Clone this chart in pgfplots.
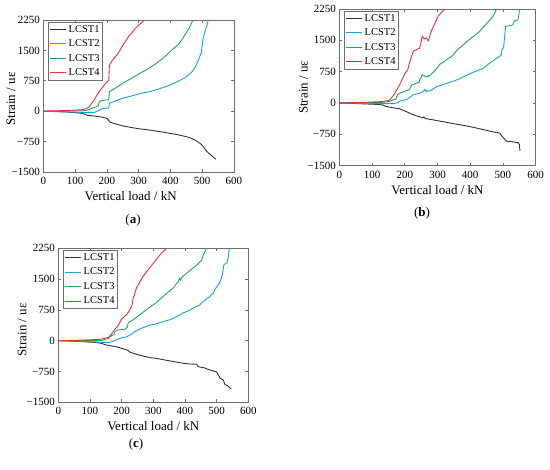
\documentclass[border=0pt]{standalone}
\usepackage{pgfplots}
\pgfplotsset{compat=1.18}
\usepackage{fontspec}
\setmainfont{Liberation Serif}
\definecolor{cA}{RGB}{50,50,50}
\definecolor{cB}{RGB}{25,160,225}
\definecolor{cC}{RGB}{30,165,95}
\definecolor{cD}{RGB}{240,45,55}
\definecolor{axgray}{RGB}{110,110,110}
\pgfplotsset{
  panel/.style={
    scale only axis,
    anchor=north west,
    xmin=0, xmax=600, ymin=-1500, ymax=2250,
    xtick={0,100,...,600},
    ytick={-1500,-750,0,750,1500,2250},
    yticklabels={−1500,−750,0,750,1500,2250},
    tick align=inside,
    major tick length=3pt,
    axis line style={axgray, line width=0.6pt},
    every tick/.style={axgray, line width=0.6pt},
    tick label style={font=\fontsize{11}{12}\selectfont},
    /pgf/number format/assume math mode=true,
    xticklabel style={yshift=-1.5pt},
    xlabel={Vertical load / kN},
    ylabel={Strain / uε},
    label style={font=\fontsize{13}{14}\selectfont},
    legend style={at={(0,1)}, anchor=north west, xshift=5pt, yshift=-2pt,
      draw=axgray, font=\fontsize{10.5}{11}\selectfont,
      inner sep=1pt, row sep=2pt, cells={anchor=west}},
    legend cell align=left,
    legend image code/.code={\draw[##1, line width=1.1pt] (0pt,0pt) -- (16pt,0pt);},
    every axis plot/.append style={line width=0.9pt, line join=round},
  },
}
\begin{document}
\begin{tikzpicture}
\path[use as bounding box] (0pt,0pt) rectangle (550pt,-470pt);
% ---------------- (a)
\begin{axis}[panel, at={(43.3pt,-20pt)}, width=190.7pt, height=152pt,
  xlabel style={xshift=-8pt},
  ylabel style={at={(axis description cs:-0.17,0.48)}, anchor=center}]
\addplot[cA] coordinates {(0,0) (40,-10) (80,-22) (120,-50) (132,-75) (138,-100) (160,-120) (185,-145) (201,-180) (205,-220) (210,-270) (230,-320) (249,-360) (275,-400) (302,-435) (330,-460) (354,-490) (380,-520) (400,-550) (420,-575) (440,-610) (460,-650) (477,-710) (493,-793) (503,-870) (514,-990) (530,-1100) (543,-1187)};
\addplot[cB] coordinates {(0,0) (40,-8) (80,-18) (120,-28) (140,-35) (159,-35) (170,0) (178,30) (185,65) (200,75) (206,80) (208,200) (220,230) (249,320) (275,370) (302,430) (330,475) (354,525) (380,590) (407,670) (430,760) (450,850) (470,990) (481,1130) (490,1300) (497,1450) (503,1800) (510,2000) (515,2110) (519,2250)};
\addplot[cC] coordinates {(0,0) (40,2) (80,5) (120,10) (132,15) (153,65) (169,120) (173,130) (176,225) (185,265) (195,275) (206,280) (208,485) (225,560) (249,685) (275,800) (302,925) (330,1050) (354,1170) (386,1370) (407,1530) (425,1640) (440,1810) (461,2080) (471,2250)};
\addplot[cD] coordinates {(0,0) (40,10) (80,20) (120,35) (132,55) (143,97) (153,200) (160,280) (169,400) (180,525) (196,685) (206,765) (208,1130) (217,1250) (235,1420) (249,1610) (270,1855) (291,2055) (318,2250)};
\legend{LCST1,LCST2,LCST3,LCST4}
\end{axis}
% ---------------- (b)
\begin{axis}[panel, at={(339.3pt,-9pt)}, width=196.4pt, height=156.7pt,
  ylabel style={at={(axis description cs:-0.183,0.5)}, anchor=center}]
\addplot[cA] coordinates {(0,0) (40,-10) (80,-22) (120,-35) (132,-45) (142,-80) (160,-110) (183,-135) (203,-200) (224,-275) (254,-355) (258,-330) (262,-370) (295,-415) (346,-490) (398,-562) (448,-650) (470,-690) (490,-720) (496,-780) (501,-830) (510,-910) (530,-930) (547,-950) (550,-990) (552,-1146)};
\addplot[cB] coordinates {(0,0) (40,-5) (80,-10) (120,-15) (132,-15) (163,-15) (175,0) (190,60) (206,80) (219,160) (226,197) (244,230) (255,260) (262,330) (266,270) (270,300) (275,280) (298,395) (346,515) (359,553) (399,700) (420,770) (440,830) (460,960) (468,1000) (488,1110) (495,1150) (497,1280) (502,1330) (504,1500) (508,1830) (530,1870) (536,1970) (546,1990) (549,2130) (551,2250)};
\addplot[cC] coordinates {(0,0) (40,3) (80,6) (120,10) (132,15) (153,40) (165,78) (173,95) (178,200) (185,237) (193,260) (206,300) (214,315) (221,430) (236,474) (244,500) (247,592) (250,600) (253,680) (262,640) (268,620) (272,660) (275,640) (295,800) (308,930) (346,1130) (359,1260) (399,1530) (427,1700) (448,1880) (470,2080) (481,2250)};
\addplot[cD] coordinates {(0,0) (40,8) (80,18) (120,30) (140,45) (150,60) (155,78) (163,160) (173,275) (185,450) (200,700) (209,790) (214,950) (221,1120) (226,1240) (245,1310) (250,1450) (253,1600) (260,1530) (266,1560) (272,1480) (280,1700) (302,2080) (322,2250)};
\legend{LCST1,LCST2,LCST3,LCST4}
\end{axis}
% ---------------- (c)
\begin{axis}[panel, at={(58.3pt,-248.3pt)}, width=190pt, height=154pt,
  ylabel style={at={(axis description cs:-0.19,0.47)}, anchor=center}]
\addplot[cA] coordinates {(0,0) (40,-10) (80,-25) (120,-45) (137,-65) (147,-95) (170,-130) (189,-160) (210,-210) (221,-240) (226,-280) (253,-345) (290,-414) (305,-425) (358,-500) (395,-551) (411,-565) (437,-575) (442,-633) (463,-665) (469,-689) (495,-750) (500,-760) (511,-916) (521,-957) (526,-1062) (535,-1100) (546,-1176)};
\addplot[cB] coordinates {(0,0) (40,-8) (80,-18) (120,-30) (137,-40) (158,-50) (174,-15) (189,40) (205,80) (216,95) (232,160) (242,225) (263,305) (290,382) (305,400) (358,525) (389,650) (395,680) (411,725) (432,820) (447,869) (453,925) (474,1050) (479,1071) (484,1130) (489,1154) (495,1250) (511,1430) (518,1600) (523,1850) (533,1900) (537,2050) (540,2250)};
\addplot[cC] coordinates {(0,0) (40,2) (80,4) (120,6) (137,8) (158,55) (168,120) (176,150) (179,225) (189,260) (211,280) (218,330) (221,445) (232,485) (253,605) (284,790) (305,900) (342,1150) (365,1300) (374,1400) (379,1437) (382,1530) (386,1470) (390,1540) (405,1641) (437,1843) (453,1960) (458,2087) (466,2209) (468,2250)};
\addplot[cD] coordinates {(0,0) (40,8) (80,16) (120,28) (137,40) (158,80) (168,160) (179,280) (189,365) (200,525) (211,605) (221,685) (232,845) (237,1050) (240,1100) (242,1170) (247,1290) (268,1570) (284,1730) (305,1935) (326,2135) (342,2250)};
\legend{LCST1,LCST2,LCST3,LCST4}
\end{axis}
% captions
\node[font=\fontsize{13}{15}\selectfont] at (133pt,-220pt) {({\bfseries a})};
\node[font=\fontsize{13}{15}\selectfont] at (422pt,-213pt) {({\bfseries b})};
\node[font=\fontsize{13}{15}\selectfont] at (136pt,-444pt) {({\bfseries c})};
\end{tikzpicture}
\end{document}
